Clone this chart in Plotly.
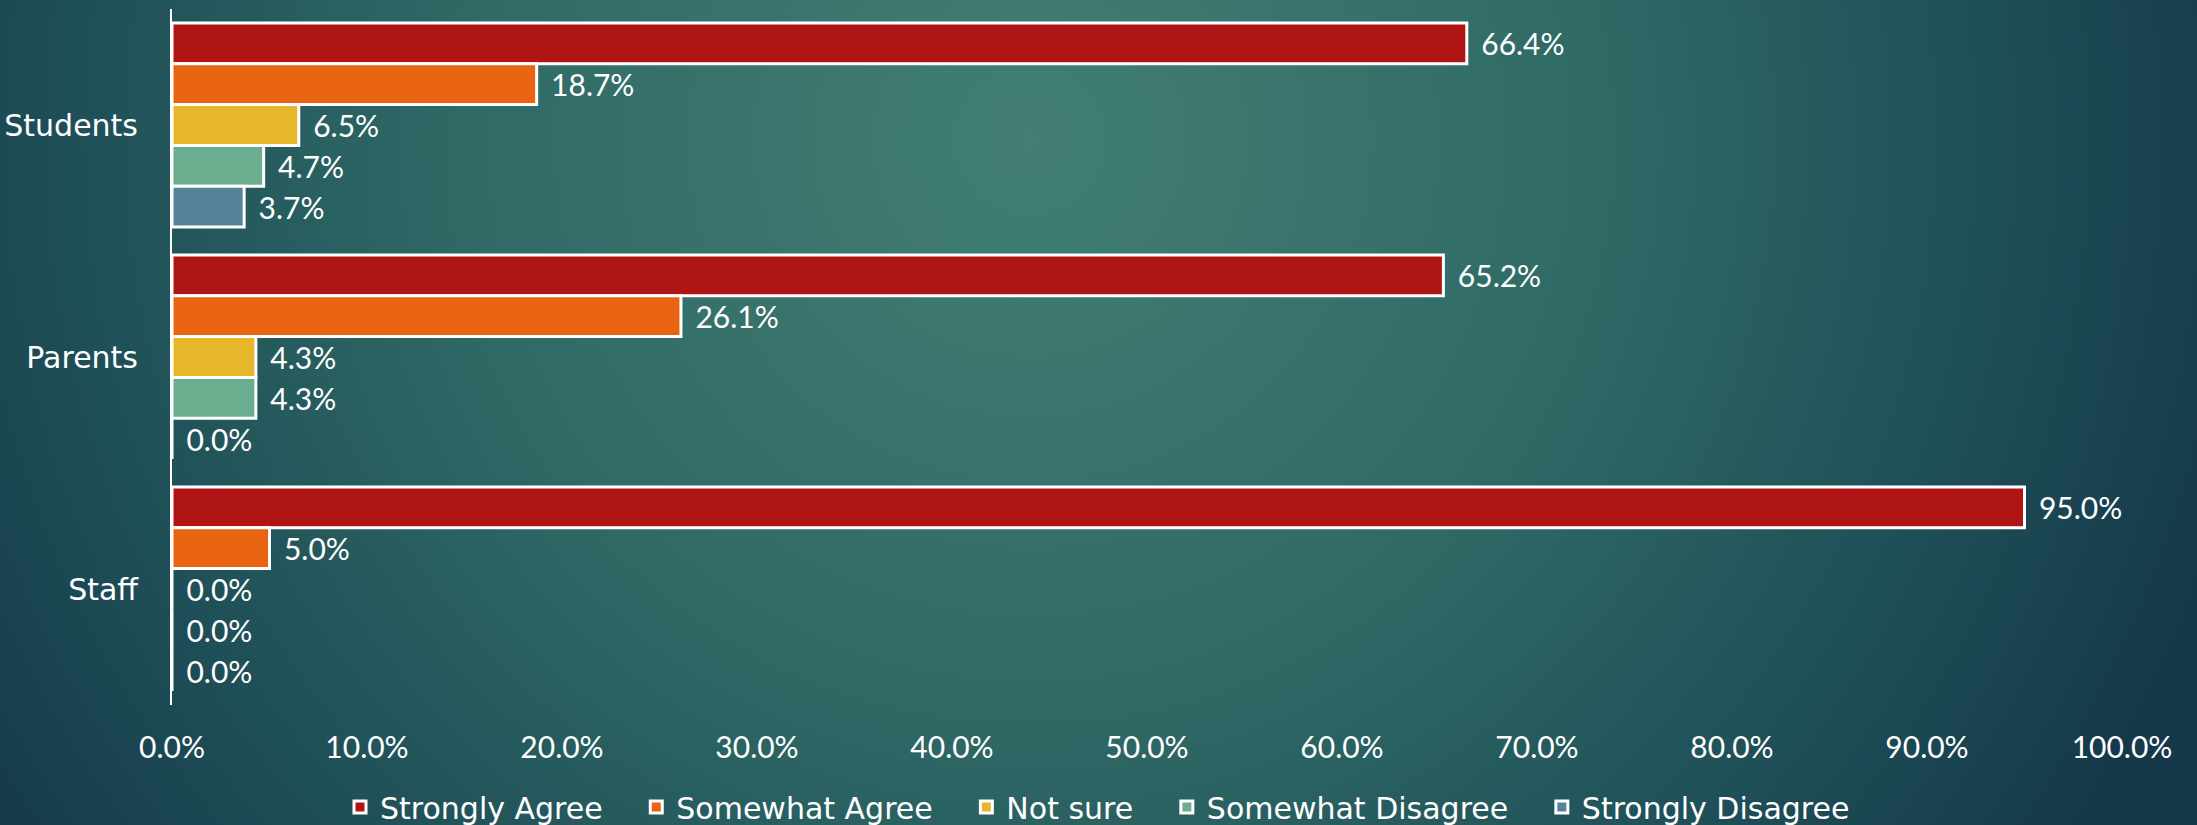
import base64
import plotly.graph_objects as go

# ---- data ----
groups = ["Students", "Parents", "Staff"]
series_names = ["Strongly Agree", "Somewhat Agree", "Not sure", "Somewhat Disagree", "Strongly Disagree"]
strongly_agree = [0.664, 0.652, 0.950]
somewhat_agree = [0.187, 0.261, 0.050]
not_sure = [0.065, 0.043, 0.000]
somewhat_disagree = [0.047, 0.043, 0.000]
strongly_disagree = [0.037, 0.000, 0.000]
x_ticks = [0.0, 0.1, 0.2, 0.3, 0.4, 0.5, 0.6, 0.7, 0.8, 0.9, 1.0]

series_values = [strongly_agree, somewhat_agree, not_sure, somewhat_disagree, strongly_disagree]
colors = ["#b01515", "#e86412", "#e6b72b", "#6aad8f", "#56839a"]

W, H = 2197, 825
ML, MR, MT, MB = 172, 75, 9, 120
PW, PH = W - ML - MR, H - MT - MB

NUMFONT = "Lato"
TXTFONT = "DejaVu Sans"
PAD = "\u00a0\u00a0\u00a0"  # spacing after each legend entry

fig = go.Figure()
for name, vals, col in zip(series_names, series_values, colors):
    fig.add_trace(go.Bar(
        y=groups, x=vals, name=name + PAD, orientation="h",
        marker=dict(color=col, line=dict(color="white", width=3)),
        texttemplate="\u00a0\u2009%{x:.1%}", textposition="outside",
        textfont=dict(color="white", size=30, family=NUMFONT),
        constraintext="none", cliponaxis=False,
    ))

# radial gradient background as SVG
svg = f'''<svg xmlns="http://www.w3.org/2000/svg" width="{W}" height="{H}" viewBox="0 0 {W} {H}" preserveAspectRatio="none">
<defs><radialGradient id="g" gradientUnits="userSpaceOnUse" cx="1030" cy="140" r="1250">
<stop offset="0" stop-color="#427f72"/>
<stop offset="0.45" stop-color="#2f6a66"/>
<stop offset="0.8" stop-color="#1d4c56"/>
<stop offset="1" stop-color="#15394a"/>
</radialGradient></defs>
<rect x="0" y="0" width="{W}" height="{H}" fill="url(#g)"/>
</svg>'''
src = "data:image/svg+xml;base64," + base64.b64encode(svg.encode()).decode()

fig.update_layout(
    width=W, height=H,
    margin=dict(l=ML, r=MR, t=MT, b=MB, pad=0, autoexpand=False),
    barmode="group", bargap=0.12, bargroupgap=0,
    paper_bgcolor="#24575b", plot_bgcolor="rgba(0,0,0,0)",
    font=dict(family=TXTFONT, color="white", size=30),
    showlegend=True,
    legend=dict(orientation="h", x=(1112 - ML) / PW, xanchor="center",
                y=-(807 - (MT + PH)) / PH, yanchor="middle",
                font=dict(size=30, color="white", family=TXTFONT),
                bgcolor="rgba(0,0,0,0)", itemwidth=30, traceorder="normal"),
    images=[dict(source=src, xref="paper", yref="paper",
                 x=-ML / PW, y=1 + MT / PH, sizex=W / PW, sizey=H / PH,
                 xanchor="left", yanchor="top", sizing="stretch", layer="below")],
    xaxis=dict(range=[0, 1], tickvals=x_ticks, tickformat=".1%",
               showgrid=False, zeroline=False, showline=False, automargin=False,
               ticks="outside", ticklen=16, tickcolor="rgba(0,0,0,0)",
               tickfont=dict(size=30, color="white", family=NUMFONT)),
    yaxis=dict(autorange="reversed", categoryorder="array", categoryarray=groups,
               showgrid=False, zeroline=False, showline=True, linecolor="white", linewidth=2,
               automargin=False,
               ticks="outside", ticklen=26, tickcolor="rgba(0,0,0,0)",
               tickfont=dict(size=30, color="white", family=TXTFONT)),
)

fig.write_html("out.html", config={"displayModeBar": False},
               post_script="document.body.style.margin='0';document.body.style.background='#1d4a55';")
